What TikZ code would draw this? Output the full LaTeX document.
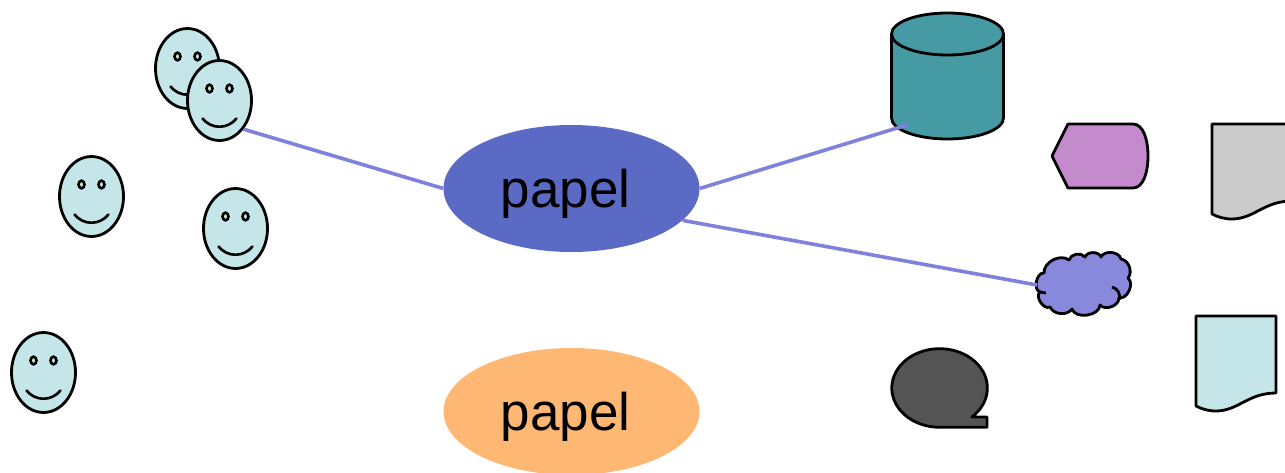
\documentclass[tikz,border=0pt]{standalone}
\usepackage{fontspec}
\setmainfont{Liberation Sans}
\definecolor{faceblue}{HTML}{C5E6E8}
\definecolor{dbteal}{HTML}{469AA3}
\definecolor{hexpurple}{HTML}{C38BCB}
\definecolor{sheetgrey}{HTML}{CBCBCB}
\definecolor{cloudblue}{HTML}{8888DC}
\definecolor{bubblegrey}{HTML}{545454}
\definecolor{papelblue}{HTML}{5B6AC4}
\definecolor{papelorange}{HTML}{FFB874}
\definecolor{linkblue}{HTML}{7F82DC}
\usetikzlibrary{shapes.geometric}

\tikzset{
    outline/.style={draw=black,line width=2.8pt,line join=round},
    facebody/.style={ellipse,outline,fill=faceblue,inner sep=0pt,minimum width=64pt,minimum height=80pt},
    papelnode/.style={ellipse,inner sep=0pt,minimum width=256pt,minimum height=127pt,
        text height=39pt,text depth=1pt,font=\fontsize{53}{60}\selectfont},
    link/.style={draw=linkblue,line width=3.6pt},
    smiley/.pic={
        \draw[line width=2.6pt] (-10,12) ellipse (3 and 3.8);
        \draw[line width=2.6pt] (10,12) ellipse (3 and 3.8);
        \draw[line width=2.6pt,line cap=round] (-17,-18) .. controls (-8,-29) and (8,-29) .. (17,-18);
    }
}

\begin{document}
\begin{tikzpicture}[x=1pt,y=1pt]
\useasboundingbox (0,0) rectangle (1285,472);

% faces
\foreach \name/\px/\py in {faceA/187.5/403.5,faceB/219.5/371.5,faceC/91.5/275.5,faceD/235.5/243.5,faceE/43.5/99.5} {
    \node[facebody] (\name) at (\px,\py) {};
    \pic at (\name) {smiley};
}

% ellipses with text
\node[papelnode,fill=papelblue] (papelA) at (571.5,283.5) {papel\kern12pt};
\node[papelnode,fill=papelorange] (papelB) at (571.5,60.5) {papel\kern12pt};

% right hand shapes
\draw[outline,fill=dbteal] (891.5,438) -- (891.5,354)
    arc[start angle=180,end angle=360,x radius=56,y radius=21] -- (1003.5,438)
    arc[start angle=0,end angle=180,x radius=56,y radius=21] -- cycle;
\draw[outline] (891.5,438) arc[start angle=180,end angle=360,x radius=56,y radius=21];
\coordinate (dbfoot) at (907,347);
\coordinate (cloudleft) at (1037,187);

\draw[outline,fill=hexpurple] (1052,316) -- (1068,348) -- (1133,348)
    .. controls (1143,348) and (1148,333) .. (1148,316)
    .. controls (1148,299) and (1143,284) .. (1133,284) -- (1068,284) -- cycle;

\foreach \px/\py/\col in {1212/258/sheetgrey,1196/66/faceblue} {
    \draw[outline,fill=\col,shift={(\px,\py)}] (0,0) -- (0,90) -- (80,90) -- (80,13)
        .. controls (52,13) and (42,-5) .. (20,-5) .. controls (12,-5) and (6,-3) .. (0,0) -- cycle;
}

\draw[outline,fill=cloudblue] (1044,199) to[bend left=65] (1069,212) to[bend left=65] (1085,215)
    to[bend left=70] (1101,215) to[bend left=70] (1121,213) to[bend left=60] (1128,194)
    to[bend left=75] (1119,174) to[bend left=70] (1100,167) to[bend left=80] (1072,163)
    to[bend left=60] (1050,165) to[bend left=85] (1040,180) to[bend left=85] cycle;
\draw[outline] (1112,185) to[bend left=50] (1119,172);
\draw[outline] (1040,180) -- (1046,179);

\draw[outline,fill=bubblegrey] (987,44.7) -- (987,55) -- (971.8,55)
    arc[start angle=-47.6,end angle=270,x radius=47.8,y radius=39.3] -- cycle;

% connectors
\draw[link] (faceB.-50) -- (papelA.west);
\draw[link] (papelA.east) -- (dbfoot);
\draw[link] (papelA.-16) -- (cloudleft);
\end{tikzpicture}
\end{document}
